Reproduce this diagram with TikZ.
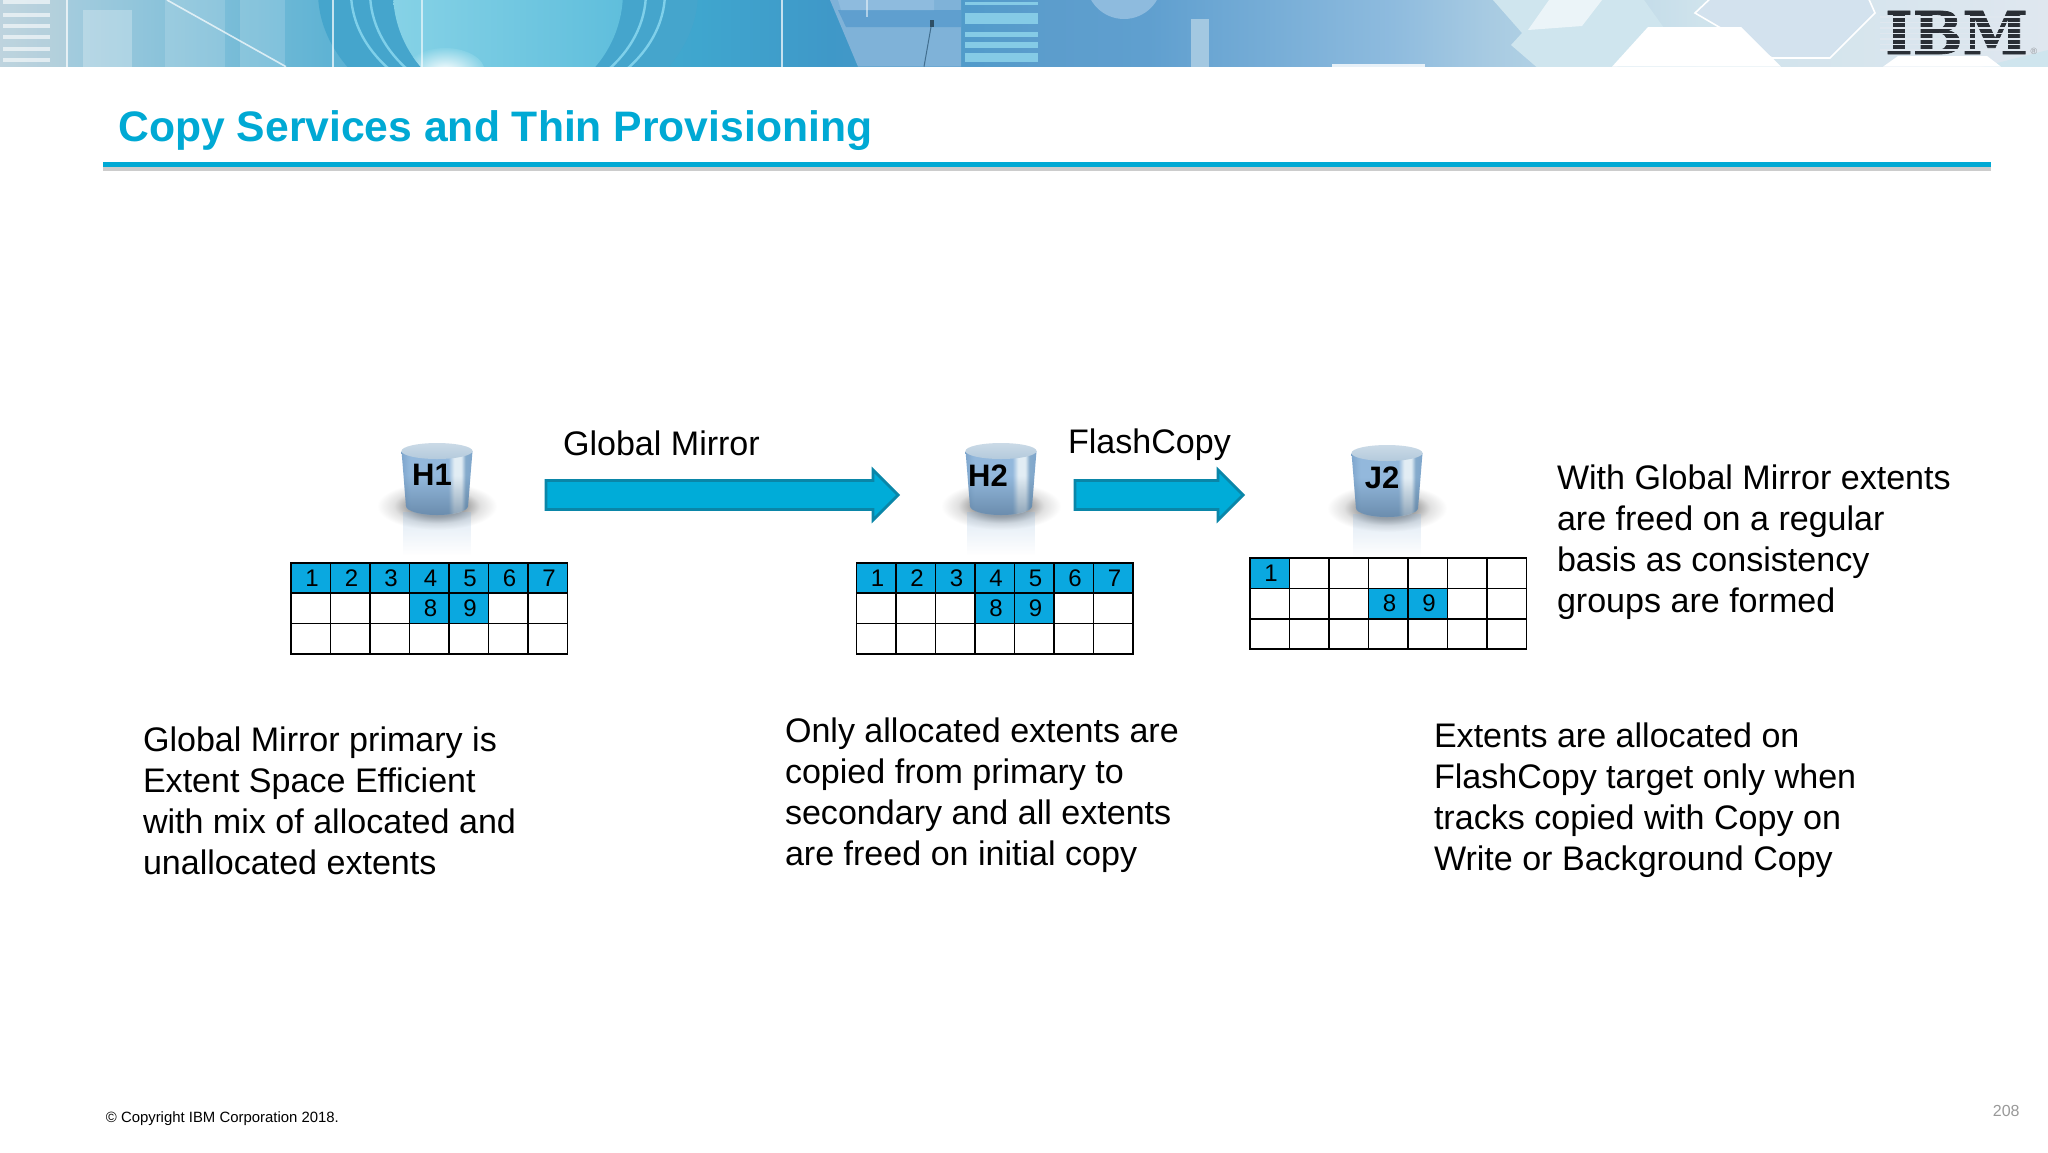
\documentclass[tikz,border=0pt]{standalone}
\usepackage{fontspec}
\setmainfont{Liberation Sans}
\newfontfamily\logofont[FakeBold=1.2]{DejaVu Serif}
\usetikzlibrary{shapes.arrows,fadings}
\definecolor{ibmcyan}{HTML}{00A9D4}
\definecolor{cellblue}{HTML}{0AA8E0}
\definecolor{arrowfill}{HTML}{00ACD8}
\definecolor{arrowedge}{HTML}{0A86A8}
\definecolor{logodark}{HTML}{2A2F36}
\definecolor{ba0}{HTML}{B5D2E0}
\definecolor{ba1}{HTML}{5FB3D4}
\definecolor{ba2}{HTML}{3FA6CE}
\definecolor{ba3}{HTML}{3F98C8}
\definecolor{ba4}{HTML}{5C9DCC}
\definecolor{ba5}{HTML}{5F9FCF}
\definecolor{ba6}{HTML}{8EBBDE}
\definecolor{ba7}{HTML}{A8CBE2}
\definecolor{ba8}{HTML}{CFE3EC}
\definecolor{ba9}{HTML}{DFE7EF}
\definecolor{ringb}{HTML}{45A5CC}
\definecolor{ringl}{HTML}{7FD0EA}
\definecolor{corel}{HTML}{86D2E6}
\definecolor{corer}{HTML}{5FBEDC}
\definecolor{hexa}{HTML}{CFE5EE}
\definecolor{hexb}{HTML}{D3E2EE}
\definecolor{stripe}{HTML}{85CBE6}
\definecolor{cyla}{HTML}{7EA6CC}
\definecolor{cylb}{HTML}{93B8DC}
\definecolor{cylc}{HTML}{E2EDF4}
\definecolor{cyld}{HTML}{86ABCC}
\definecolor{cyltop}{HTML}{B4CADC}
\definecolor{cylshade}{HTML}{4A6A88}
\pgfdeclarehorizontalshading{bannerbg}{100bp}{
 color(0bp)=(ba0); color(25bp)=(ba0); color(33bp)=(ba1); color(42bp)=(ba2); color(45.3bp)=(ba3); color(50.6bp)=(ba4); color(53bp)=(ba5); color(59bp)=(ba6); color(61.4bp)=(ba7); color(66.5bp)=(ba8); color(75bp)=(ba9); color(100bp)=(ba9)}
\pgfdeclarehorizontalshading{cylbody}{100bp}{
 color(0bp)=(cyla); color(25bp)=(cyla); color(31bp)=(cylb); color(58bp)=(cylb); color(62bp)=(cylc); color(67bp)=(cylc); color(70bp)=(cyld); color(75bp)=(cyla); color(100bp)=(cyla)}
\pgfdeclareradialshading{softshadow}{\pgfpoint{0bp}{0bp}}{
 color(0bp)=(black!60); color(11bp)=(black!40); color(18bp)=(black!12); color(25bp)=(white); color(50bp)=(white)}
\pgfdeclareradialshading{softglow}{\pgfpoint{0bp}{0bp}}{
 color(0bp)=(white); color(25bp)=(corel); color(50bp)=(corel)}
\tikzset{
 x=0.5pt,y=-0.5pt,
 body/.style={inner sep=0pt,outer sep=0pt,align=left,anchor=west,font=\fontsize{17.03}{20.4}\selectfont,text=black},
 cellempty/.style={draw=black,line width=0.8pt,inner sep=0pt,outer sep=0pt,minimum width=19.75pt,minimum height=15.2pt},
 cellfull/.style={cellempty,fill=cellblue,font=\fontsize{12}{12}\selectfont},
 blockarrow/.style={single arrow,draw=arrowedge,fill=arrowfill,line width=1.4pt,inner xsep=0pt,inner ysep=5.6pt,outer sep=0pt,single arrow head extend=4.5pt,single arrow head indent=0pt,anchor=west,text height=0pt,text depth=0pt,text width=0pt},
 cyllabel/.style={font=\fontsize{15.5}{16}\selectfont\bfseries,inner sep=0pt,text=black},
}
\newcommand{\cellgrid}[3]{%
 \foreach \c in {0,...,6}{\foreach \r in {0,1,2}{
  \node[cellempty] (#1-\c-\r) at ({#2+19.75+39.5*\c},{#3+15.2+30.4*\r}) {};}}}
\newcommand{\cellset}[5]{\node[cellfull] (#1-n#5) at ({#2+19.75+39.5*#3},{#4}) {\hspace{1.2pt}#5};}
\newcommand{\storage}[3]{%
 \shade[shading=softshadow] (#2,#3+64) ellipse [x radius=30pt,y radius=12pt];
 \fill[cylb,opacity=.3,path fading=south] (#2-34,#3+70) rectangle (#2+34,#3+113);
 \shade[shading=cylbody] (#2-35.5,#3+9) -- (#2-31,#3+64) arc [start angle=180,end angle=360,x radius=15.5pt,y radius=4.5pt] -- (#2+35.5,#3+9) -- cycle;
 \fill[cylshade,opacity=.55,path fading=north] (#2-33.7,#3+34) -- (#2-31,#3+64) arc [start angle=180,end angle=360,x radius=15.5pt,y radius=4.5pt] -- (#2+33.7,#3+34) -- cycle;
 \shade[top color=cyltop!70!white,bottom color=cyltop] (#2,#3+9) ellipse [x radius=17.75pt,y radius=4pt];
}
\begin{document}
\begin{tikzpicture}
\useasboundingbox (0,0) rectangle (2048,1152);
\fill[white] (0,0) rectangle (2048,1152);
% banner
\begin{scope}
\clip (0,0) rectangle (2048,66.7);
\shade[shading=bannerbg] (0,0) rectangle (2048,66.7);
\fill[gray!30!white,opacity=.25] (0,0) rectangle (67,66.7);
\foreach \y in {0,13,24,35,47,58}{\fill[white,opacity=.6] (3,\y) rectangle (50,\y+3.5);}
\fill[white,opacity=.25] (83,10) rectangle (132,66.7);
\fill[white,opacity=.15] (165,0) rectangle (225,66.7);
\fill[white,opacity=.15] (240,0) rectangle (285,66.7);
\fill[white,opacity=.7] (66,0) rectangle (68,66.7);
\draw[white,opacity=.7,line width=.8pt] (167,0) -- (286,66.7);
% ring and core
\fill[ringb] (508,-8) ellipse [x radius=95pt,y radius=70pt];
\draw[ringl,line width=1.2pt] (508,-8) ellipse [x radius=78.5pt,y radius=59pt];
\draw[ringl,line width=1.2pt] (508,-8) ellipse [x radius=69pt,y radius=56.5pt];
\begin{scope}
\clip (508,-8) circle [radius=57.5pt];
\shade[left color=corel,right color=corer] (393,-10) rectangle (623,70);
\shade[shading=softglow] (445,72) ellipse [x radius=20pt,y radius=12pt];
\end{scope}
\fill[white,opacity=.7] (332,0) rectangle (334,66.7);
\fill[white,opacity=.6] (421,0) rectangle (423,66.7);
% middle
\fill[white,opacity=.7] (781,0) rectangle (783,66.7);
\fill[ba6!70!ba4] (830,0) -- (961,0) -- (961,66.7) -- (858,66.7) -- cycle;
\fill[ba5] (838,10) -- (961,10) -- (961,27) -- (846,27) -- cycle;
\fill[ba6] (838,0) -- (934,0) -- (934,10) -- (841,10) -- cycle;
\fill[white,opacity=.5] (866,0) rectangle (868,17);
\fill[ba4!50!black] (930,20) rectangle (934,27);
\draw[ba4!70!black,line width=.5pt] (931,27) -- (924,66.7);
\foreach \a/\b in {2/5,13/24,32/37,42/48,53/62}{\fill[stripe] (965,\a) rectangle (1038,\b);}
\fill[ba6] (1124,-19) circle [radius=19pt];
\fill[ba7!80!ba6] (1191,19) rectangle (1209,66.7);
\fill[white,opacity=.8] (1332,64) rectangle (1425,66.7);
% right
\fill[hexa] (1493,0) -- (1522,33) -- (1511,45) -- (1540,70) -- (1613,70) -- (1664,28) -- (1644,0) -- cycle;
\fill[white,opacity=.6] (1549,0) -- (1602,0) -- (1582,26) -- (1528,30) -- cycle;
\draw[white,line width=.8pt,fill=hexb] (1695,13) -- (1714,-5) -- (1867,-5) -- (1875,13) -- (1830,58) -- (1772,58) -- cycle;
\fill[hexa] (1970,70) -- (2048,50) -- (2048,70) -- cycle;
\fill[white] (1612,66.7) -- (1648,27) -- (1741,27) -- (1781,66.7) -- cycle;
\fill[white] (1883,66.7) -- (1898,56) -- (1987,56) -- (2001,66.7) -- cycle;
\end{scope}
% logo
\node[inner sep=0pt,text=logodark,font=\fontsize{29.5}{30}\logofont\bfseries] (logo) at (1956.5,32.5) {IBM};
\foreach \y in {16,21.5,27,32.5,38,43.5,49}{\fill[ba9] (1880,\y) rectangle (2032,\y+1.6);}
\node[inner sep=0pt,text=logodark!50,font=\fontsize{4.5}{4.5}\selectfont] (reg) at (2034,51) {®};
% title
\node[inner sep=0pt,anchor=base west,text=ibmcyan,font=\fontsize{21.33}{24}\selectfont\bfseries] (title) at (118,141.5) {Copy Services and Thin Provisioning};
\fill[black!20] (102.5,166) rectangle (1990.7,171);
\fill[ibmcyan] (102.5,162) rectangle (1990.7,167);
% storage
\storage{h1}{437}{442}
\storage{h2}{1001}{442}
\storage{j2}{1387}{444}
\node[cyllabel] (h1lab) at (432,475) {H1};
\node[cyllabel] (h2lab) at (988,476) {H2};
\node[cyllabel] (j2lab) at (1382,478) {J2};
% arrows
\node[blockarrow,minimum height=176pt,minimum width=25pt] (gm) at (546,495) {};
\node[blockarrow,minimum height=84pt,minimum width=25pt] (fc) at (1075,495) {};
\node[body] (gmlab) at (563,443) {Global Mirror};
\node[body] (fclab) at (1068,445) {FlashCopy};
% grids
\cellgrid{a}{291}{562.7}
\foreach \c/\t in {0/1,1/2,2/3,3/4,4/5,5/6,6/7}{\cellset{a}{291}{\c}{577.9}{\t}}
\cellset{a}{291}{3}{608.3}{8}\cellset{a}{291}{4}{608.3}{9}
\cellgrid{b}{856.5}{562.7}
\foreach \c/\t in {0/1,1/2,2/3,3/4,4/5,5/6,6/7}{\cellset{b}{856.5}{\c}{577.9}{\t}}
\cellset{b}{856.5}{3}{608.3}{8}\cellset{b}{856.5}{4}{608.3}{9}
\cellgrid{c}{1250}{558}
\cellset{c}{1250}{0}{573.2}{1}
\cellset{c}{1250}{3}{603.6}{8}\cellset{c}{1250}{4}{603.6}{9}
% texts
\node[body] (t1) at (143,801) {Global Mirror primary is\\Extent Space Efficient\\with mix of allocated and\\unallocated extents};
\node[body] (t2) at (785,795) {Only allocated extents are\\copied from primary to\\secondary and all extents\\are freed on initial copy};
\node[body] (t3) at (1434,800) {Extents are allocated on\\FlashCopy target only when\\tracks copied with Copy on\\Write or Background Copy};
\node[body] (t4) at (1557,542) {With Global Mirror extents\\are freed on a regular\\basis as consistency\\groups are formed};
\node[inner sep=0pt,anchor=west,font=\fontsize{7.45}{9}\selectfont] (copy) at (105.5,1119) {© Copyright IBM Corporation 2018.};
\node[inner sep=0pt,anchor=east,text=black!40,font=\fontsize{8}{9}\selectfont] (page) at (2020,1111) {208};
\end{tikzpicture}
\end{document}
